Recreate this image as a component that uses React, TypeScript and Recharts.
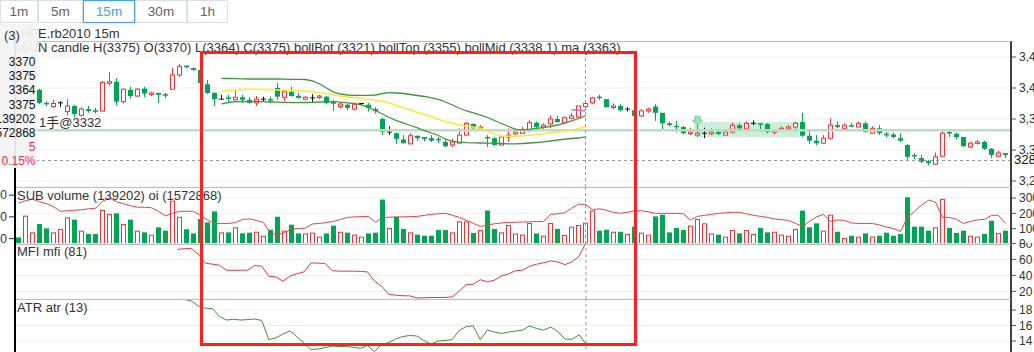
import { ComposedChart, Bar, Line, XAxis, YAxis, CartesianGrid, ReferenceLine, ReferenceArea, ReferenceDot } from 'recharts'

// hovered bar / crosshair
const HOVER = 81
const CROSS_PRICE = 3283
const POSITION_PRICE = 3332

const TABS = ['1m', '5m', '15m', '30m', '1h']
const ACTIVE_TAB = '15m'

const OPEN = [
  3378, 3373, 3379, 3397, 3376, 3370, 3376, 3362, 3371, 3356,
  3366, 3364, 3363, 3408, 3410, 3378, 3397, 3387, 3399, 3391,
  3392, 3390, 3398, 3421, 3436, 3432, 3429, 3406, 3392, 3382,
  3385, 3381, 3385, 3381, 3376, 3382, 3382, 3400, 3385, 3394,
  3387, 3382, 3384, 3385, 3386, 3377, 3370, 3373, 3366, 3375,
  3373, 3366, 3350, 3329, 3327, 3317, 3310, 3323, 3321, 3319,
  3318, 3313, 3308, 3311, 3324, 3342, 3334, 3321, 3319, 3308,
  3321, 3326, 3327, 3331, 3344, 3337, 3342, 3350, 3344, 3351,
  3353, 3370, 3376, 3386, 3382, 3369, 3371, 3366, 3364, 3355,
  3363, 3370, 3360, 3343, 3339, 3337, 3327, 3324, 3327, 3326,
  3329, 3324, 3329, 3340, 3334, 3343, 3343, 3342, 3329, 3332,
  3334, 3337, 3345, 3323, 3315, 3311, 3319, 3340, 3335, 3340,
  3337, 3343, 3327, 3335, 3326, 3325, 3319, 3308, 3292, 3287,
  3282, 3277, 3290, 3329, 3326, 3321, 3305, 3311, 3313, 3302,
  3290, 3295,
]
const HIGH = [
  3380, 3382, 3383, 3399, 3379, 3381, 3379, 3382, 3373, 3369,
  3371, 3368, 3411, 3426, 3416, 3399, 3402, 3400, 3402, 3394,
  3392, 3392, 3432, 3439, 3437, 3433, 3431, 3413, 3393, 3389,
  3389, 3395, 3389, 3385, 3387, 3386, 3386, 3408, 3397, 3402,
  3392, 3387, 3390, 3389, 3387, 3381, 3377, 3374, 3376, 3376,
  3376, 3369, 3352, 3338, 3328, 3324, 3327, 3323, 3321, 3324,
  3321, 3318, 3318, 3335, 3345, 3343, 3340, 3324, 3321, 3322,
  3335, 3335, 3337, 3348, 3346, 3343, 3356, 3355, 3354, 3360,
  3371, 3375, 3386, 3389, 3382, 3375, 3374, 3369, 3366, 3366,
  3368, 3374, 3360, 3346, 3347, 3339, 3336, 3346, 3336, 3335,
  3331, 3333, 3344, 3343, 3346, 3348, 3343, 3343, 3332, 3338,
  3340, 3346, 3360, 3332, 3324, 3324, 3351, 3346, 3343, 3344,
  3346, 3346, 3338, 3340, 3329, 3328, 3327, 3310, 3295, 3292,
  3284, 3296, 3332, 3332, 3328, 3321, 3313, 3316, 3315, 3303,
  3299, 3295,
]
const LOW = [
  3370, 3371, 3375, 3374, 3371, 3368, 3369, 3356, 3353, 3354,
  3360, 3359, 3362, 3404, 3372, 3375, 3383, 3385, 3385, 3387,
  3376, 3384, 3398, 3418, 3432, 3428, 3406, 3390, 3371, 3382,
  3378, 3380, 3376, 3375, 3371, 3378, 3376, 3381, 3379, 3386,
  3383, 3380, 3377, 3382, 3374, 3363, 3367, 3364, 3364, 3372,
  3362, 3359, 3324, 3324, 3310, 3310, 3309, 3315, 3314, 3313,
  3311, 3305, 3305, 3311, 3324, 3334, 3331, 3305, 3307, 3308,
  3313, 3324, 3326, 3329, 3335, 3334, 3335, 3344, 3343, 3351,
  3351, 3364, 3374, 3381, 3369, 3366, 3362, 3362, 3351, 3353,
  3360, 3347, 3333, 3338, 3329, 3325, 3324, 3321, 3319, 3324,
  3324, 3324, 3327, 3333, 3331, 3340, 3330, 3327, 3325, 3330,
  3332, 3333, 3321, 3310, 3308, 3310, 3317, 3335, 3335, 3337,
  3337, 3328, 3327, 3324, 3321, 3319, 3313, 3283, 3285, 3279,
  3275, 3276, 3289, 3321, 3317, 3305, 3303, 3309, 3300, 3287,
  3289, 3287,
]
const CLOSE = [
  3373, 3379, 3381, 3376, 3375, 3375, 3376, 3371, 3358, 3366,
  3363, 3363, 3409, 3410, 3378, 3398, 3387, 3398, 3391, 3392,
  3389, 3388, 3421, 3435, 3434, 3429, 3408, 3392, 3382, 3382,
  3384, 3385, 3381, 3376, 3382, 3382, 3381, 3386, 3394, 3387,
  3384, 3385, 3384, 3387, 3376, 3376, 3374, 3368, 3373, 3375,
  3368, 3363, 3329, 3329, 3318, 3311, 3323, 3319, 3318, 3315,
  3316, 3306, 3313, 3324, 3343, 3335, 3337, 3319, 3308, 3321,
  3324, 3329, 3332, 3344, 3337, 3340, 3350, 3345, 3352, 3355,
  3371, 3375, 3384, 3384, 3369, 3371, 3364, 3366, 3355, 3363,
  3366, 3360, 3343, 3340, 3337, 3327, 3329, 3327, 3327, 3329,
  3326, 3329, 3340, 3335, 3343, 3343, 3342, 3329, 3332, 3335,
  3337, 3343, 3323, 3315, 3311, 3319, 3340, 3337, 3340, 3338,
  3343, 3329, 3335, 3327, 3324, 3321, 3315, 3289, 3290, 3281,
  3279, 3289, 3327, 3327, 3321, 3306, 3311, 3313, 3302, 3292,
  3295, 3292,
]
const VOLUME = [
  43000, 185000, 76000, 131000, 102000, 76000, 98000, 174000, 159000, 87000,
  65000, 65000, 222000, 196000, 200000, 131000, 159000, 87000, 76000, 61000,
  109000, 87000, 283000, 178000, 96000, 69000, 163000, 141000, 213000, 76000,
  76000, 109000, 69000, 74000, 80000, 54000, 93000, 178000, 87000, 126000,
  69000, 69000, 74000, 48000, 69000, 120000, 80000, 74000, 61000, 48000,
  69000, 74000, 290000, 105000, 178000, 98000, 76000, 61000, 54000, 54000,
  91000, 91000, 76000, 148000, 148000, 72000, 91000, 218000, 98000, 76000,
  124000, 69000, 61000, 137000, 69000, 54000, 137000, 98000, 59000, 113000,
  124000, 139202, 218000, 87000, 93000, 80000, 80000, 65000, 113000, 74000,
  61000, 180000, 191000, 76000, 105000, 91000, 120000, 163000, 135000, 69000,
  61000, 48000, 91000, 69000, 91000, 65000, 105000, 76000, 80000, 61000,
  54000, 98000, 218000, 109000, 135000, 87000, 191000, 80000, 39000, 54000,
  48000, 69000, 48000, 54000, 74000, 54000, 65000, 305000, 113000, 113000,
  87000, 109000, 294000, 105000, 72000, 87000, 54000, 48000, 65000, 152000,
  72000, 87000,
]
const OI = [
  1573140, 1573720, 1574070, 1573490, 1573020, 1572330, 1571280, 1571400, 1571510, 1571630,
  1571860, 1571980, 1573600, 1574300, 1573490, 1573020, 1572560, 1572210, 1572210, 1572090,
  1571280, 1570230, 1570810, 1571280, 1571280, 1571280, 1570350, 1569300, 1568490, 1568490,
  1568490, 1568720, 1569420, 1569530, 1569190, 1568720, 1566160, 1565930, 1566400, 1567210,
  1567330, 1567440, 1568370, 1568490, 1568720, 1568950, 1569420, 1569880, 1570000, 1570050,
  1570120, 1568720, 1569880, 1569930, 1569980, 1570000, 1570070, 1570120, 1570350, 1570580,
  1570700, 1570810, 1570350, 1569880, 1569190, 1568490, 1567790, 1568140, 1568420, 1568600,
  1568720, 1568770, 1568810, 1568860, 1568910, 1568950, 1570580, 1570700, 1570930, 1571980,
  1572910, 1572868, 1571630, 1571860, 1571510, 1571050, 1570810, 1571050, 1571400, 1571400,
  1571160, 1570810, 1570810, 1570810, 1570810, 1570700, 1569300, 1570120, 1570350, 1570580,
  1570810, 1570930, 1571050, 1571050, 1570700, 1570350, 1570120, 1569880, 1569530, 1569350,
  1569190, 1568490, 1567790, 1568950, 1570000, 1570580, 1568950, 1569300, 1569190, 1568600,
  1568490, 1568490, 1568490, 1568140, 1567670, 1567330, 1566630, 1569880, 1571280, 1572670,
  1573840, 1573370, 1569880, 1569880, 1569420, 1568490, 1568950, 1569300, 1569420, 1570350,
  1570350, 1568490,
]

const MFI_START = 23
const MFI = [
  72.4, 73.4, 73.6, 66.5, 55.3, 54.0, 52.8, 46.5, 46.3, 46.5,
  46.4, 52.4, 51.5, 39.0, 38.1, 32.8, 39.0, 42.1, 44.4, 55.6,
  55.3, 54.9, 45.9, 45.3, 45.3, 45.3, 45.0, 44.4, 32.8, 26.5,
  16.5, 15.3, 14.6, 14.4, 11.9, 12.1, 12.4, 12.4, 12.5, 13.1,
  20.3, 28.4, 29.0, 34.6, 31.9, 34.0, 39.4, 41.9, 45.9, 46.5,
  51.5, 54.0, 55.9, 58.1, 56.9, 53.4, 56.9, 64.0, 81,
]
const ATR_START = 24
const ATR = [
  19.38, 19.16, 18.52, 18.22, 18.19, 17.16, 16.71, 16.8, 16.71, 16.77,
  16.84, 16.65, 14.19, 14.4, 14.9, 15.3, 14.55, 13.74, 12.9, 12.97,
  13.16, 13.35, 13.29, 13.29, 13.19, 13.06, 13.42, 12.65, 13.55, 13.81,
  14.26, 14.58, 14.71, 14.65, 14.06, 13.61, 14.0, 14.06, 14.19, 15.35,
  15.87, 15.96, 14.17, 15.42, 15.16, 14.97, 15.16, 15.29, 15.42, 15.96,
  15.61, 15.42, 15.81, 15.23, 14.26, 14.22, 14.81, 13.6,
]
const BOLL_START = 29
const BOLL_TOP = [
  3415.6, 3415.3, 3415.0, 3414.8, 3414.5, 3414.5, 3414.5, 3414.5, 3414.5, 3414.2,
  3414.0, 3414.0, 3413.7, 3411.3, 3406.5, 3400.0, 3393.5, 3390.3, 3388.7, 3388.2,
  3388.2, 3388.2, 3388.7, 3391.1, 3392.4, 3391.9, 3391.1, 3389.5, 3387.9, 3386.3,
  3383.9, 3381.8, 3377.4, 3372.6, 3367.3, 3362.9, 3359.7, 3356.4, 3352.4, 3347.6,
  3342.7, 3337.9, 3333.1, 3332.3, 3333.4, 3334.7, 3336.3, 3338.2, 3340.3, 3343.5,
  3346.8, 3350.8, 3355,
]
const BOLL_MID = [
  3395.6, 3396.3, 3396.8, 3397.3, 3397.9, 3397.9, 3397.6, 3397.3, 3396.8, 3396.5,
  3396.1, 3395.6, 3395.2, 3393.9, 3392.4, 3391.1, 3388.7, 3387.1, 3385.8, 3384.4,
  3383.1, 3381.8, 3380.3, 3378.7, 3375.8, 3371.8, 3367.7, 3364.5, 3360.5, 3357.3,
  3354.0, 3349.2, 3346.0, 3343.1, 3340.3, 3338.7, 3337.1, 3335.0, 3330.6, 3325.8,
  3322.6, 3322.1, 3322.3, 3322.6, 3323.7, 3325.0, 3326.3, 3327.9, 3329.0, 3330.6,
  3332.3, 3334.7, 3338.1,
]
const BOLL_BOT = [
  3374.2, 3376.6, 3377.9, 3377.9, 3377.9, 3377.9, 3377.9, 3377.4, 3377.1, 3376.8,
  3376.4, 3376.3, 3376.6, 3376.9, 3377.4, 3377.7, 3377.9, 3377.1, 3376.1, 3375.0,
  3372.6, 3368.5, 3363.7, 3358.1, 3352.4, 3347.3, 3343.5, 3339.5, 3335.5, 3331.4,
  3327.4, 3323.4, 3317.7, 3313.7, 3312.6, 3311.8, 3311.6, 3311.3, 3311.0, 3310.8,
  3310.5, 3310.0, 3310.0, 3310.5, 3311.3, 3312.1, 3313.2, 3314.5, 3316.1, 3317.3,
  3318.5, 3319.3, 3321,
]
const MA_START = 79
const MA = [3365, 3364, 3363]

const PRICE_TICKS = [3250, 3300, 3350, 3400, 3450]
const VOL_TICKS = [0, 100000, 200000, 300000]
const OI_TICKS = [1565000, 1570000, 1575000]
const MFI_TICKS = [20, 40, 60, 80]
const ATR_TICKS = [14, 16, 18]

// shaded zone + marker on the main panel
const ZONE = { from: 97, to: 111, low: 3321, high: 3345 }
const MARKER = { at: 97, price: 3348 }

const RED = '#ff2d2d'
const GREEN = '#00a651'
const FONT = '"Liberation Sans", Arial, "Noto Sans CJK SC", sans-serif'
const CHART_W = 1072

const seg = (arr: number[], start: number, i: number) =>
  i >= start && i < start + arr.length ? arr[i - start] : null

const rows = OPEN.map((open, i) => ({
  i,
  open,
  high: HIGH[i],
  low: LOW[i],
  close: CLOSE[i],
  range: [LOW[i], HIGH[i]],
  volume: VOLUME[i],
  oi: OI[i],
  mfi: seg(MFI, MFI_START, i),
  atr: seg(ATR, ATR_START, i),
  bollTop: seg(BOLL_TOP, BOLL_START, i),
  bollMid: seg(BOLL_MID, BOLL_START, i),
  bollBot: seg(BOLL_BOT, BOLL_START, i),
  ma: seg(MA, MA_START, i),
}))

const fmt = (v: number) => v.toLocaleString('en-US')

const rightAxis = {
  orientation: 'right' as const,
  width: 61,
  tickSize: 5,
  tickMargin: 3,
  interval: 0 as const,
  allowDataOverflow: true,
  axisLine: { stroke: '#000', strokeWidth: 1.5 },
  tickLine: { stroke: '#555' },
  tick: { fontSize: 12, fill: '#333' },
  tickFormatter: fmt,
}

function Candle(props: any) {
  const { x, y, width, height, payload } = props
  const { open, close, high, low } = payload
  const k = high > low ? height / (high - low) : 0
  const py = (v: number) => y + (high - v) * k
  const cx = x + width / 2
  const top = py(Math.max(open, close))
  const bot = py(Math.min(open, close))
  if (close === open) {
    return (
      <g stroke="#111">
        <line x1={cx} x2={cx} y1={y} y2={y + height} />
        <line x1={x} x2={x + width} y1={top} y2={top} />
      </g>
    )
  }
  const bodyH = Math.max(bot - top, 1.5)
  if (close > open) {
    return (
      <g stroke={RED}>
        <line x1={cx} x2={cx} y1={y} y2={top} />
        <line x1={cx} x2={cx} y1={top + bodyH} y2={y + height} />
        <rect x={x + 0.5} y={top} width={width - 1} height={bodyH} fill="#fff" />
      </g>
    )
  }
  return (
    <g>
      <line x1={cx} x2={cx} y1={y} y2={y + height} stroke={GREEN} />
      <rect x={x} y={top} width={width} height={bodyH} fill={GREEN} />
    </g>
  )
}

function VolumeBar(props: any) {
  const { x, y, width, height, payload } = props
  if (payload.close >= payload.open) {
    return <rect x={x + 0.5} y={y + 0.5} width={width - 1} height={Math.max(height - 1, 0)} fill="#fff" stroke={RED} />
  }
  return <rect x={x} y={y} width={width} height={height} fill={GREEN} />
}

function Marker({ cx, cy }: any) {
  return (
    <path
      d={`M${cx - 2.5},${cy - 4} h5 v4 h2.5 l-5,5 l-5,-5 h2.5 z`}
      fill="#a8dfbb"
      stroke="#6cc48f"
      strokeWidth={0.8}
    />
  )
}

function PositionLabel({ viewBox }: any) {
  return (
    <text x={viewBox.x + 24} y={viewBox.y - 3} fontSize={13} fill="#333">
      {`1手@${POSITION_PRICE}`}
    </text>
  )
}

function PriceTag({ viewBox }: any) {
  const x = viewBox.x + viewBox.width
  return (
    <g>
      <rect x={x - 1} y={viewBox.y - 9} width={45} height={16} fill="#fff" />
      <text x={x + 3} y={viewBox.y + 3} fontSize={13} fill="#111">
        {CROSS_PRICE}
      </text>
    </g>
  )
}

const crosshair = <ReferenceLine x={HOVER} stroke="#999" strokeDasharray="3 3" />

function Text({ x, y, children, color = '#333', size = 13 }: any) {
  return (
    <div style={{ position: 'absolute', left: x, top: y, fontSize: size, lineHeight: '15px', color, whiteSpace: 'nowrap' }}>
      {children}
    </div>
  )
}

export default function App() {
  const h = HOVER
  const b = h - BOLL_START
  const change = CLOSE[h] - OPEN[h]
  const panelRows = [
    OPEN[h], HIGH[h], LOW[h], CLOSE[h], VOLUME[h], OI[h], change,
    `${((change / OPEN[h]) * 100).toFixed(2)}%`,
  ]
  const tabBoxes = [
    [0, 38], [38, 45], [83, 52], [135, 52], [187, 41],
  ]
  const seps = [41, 187, 244, 299]

  return (
    <div style={{ position: 'fixed', left: 0, top: 0, width: 1034, height: 352, overflow: 'hidden', background: '#fff', fontFamily: FONT, color: '#333' }}>
      <div style={{ position: 'absolute', left: 0, top: 41 }}>
        <ComposedChart width={CHART_W} height={146} data={rows} margin={{ top: 0, right: 0, bottom: 0, left: 15 }}>
          <XAxis dataKey="i" hide padding={{ left: 0, right: 2 }} />
          <YAxis {...rightAxis} domain={[3240.3, 3475.8]} ticks={PRICE_TICKS} />
          <CartesianGrid vertical={false} stroke="#eeeeee" />
          <ReferenceLine y={POSITION_PRICE} stroke="#b7dfc1" strokeWidth={2.5} label={PositionLabel} />
          <Bar dataKey="range" barSize={5} shape={Candle} isAnimationActive={false} />
          <Line dataKey="bollTop" stroke="#3d983d" strokeWidth={1.3} dot={false} isAnimationActive={false} />
          <Line dataKey="bollBot" stroke="#3d983d" strokeWidth={1.3} dot={false} isAnimationActive={false} />
          <Line dataKey="bollMid" stroke="#f0f03a" strokeWidth={1.6} dot={false} isAnimationActive={false} />
          <Line dataKey="ma" stroke="#c46fdc" strokeWidth={1.6} dot={false} isAnimationActive={false} />
          <ReferenceArea x1={ZONE.from} x2={ZONE.to} y1={ZONE.low} y2={ZONE.high} fill="#3cbf72" fillOpacity={0.26} stroke="none" />
          <ReferenceDot x={MARKER.at} y={MARKER.price} shape={Marker} />
          <ReferenceLine y={CROSS_PRICE} stroke="#999" strokeDasharray="3 3" label={PriceTag} />
          {crosshair}
        </ComposedChart>
      </div>

      <div style={{ position: 'absolute', left: 0, top: 187 }}>
        <ComposedChart width={CHART_W} height={57} data={rows} margin={{ top: 0, right: 0, bottom: 0, left: 0 }}>
          <XAxis dataKey="i" hide padding={{ left: 0, right: 2 }} />
          <YAxis {...rightAxis} domain={[0, 372000]} ticks={VOL_TICKS} />
          <YAxis
            yAxisId="oi"
            orientation="left"
            width={15}
            domain={[1563770, 1576860]}
            ticks={OI_TICKS}
            interval={0}
            allowDataOverflow
            axisLine={false}
            tickLine={{ stroke: '#222' }}
            tick={{ fontSize: 12, fill: '#333' }}
            tickFormatter={fmt}
          />
          <CartesianGrid vertical={false} stroke="#eeeeee" />
          <Bar dataKey="volume" barSize={5} shape={VolumeBar} isAnimationActive={false} />
          <Line yAxisId="oi" dataKey="oi" stroke="#e84040" strokeWidth={1} dot={false} isAnimationActive={false} />
          {crosshair}
        </ComposedChart>
      </div>

      <div style={{ position: 'absolute', left: 0, top: 243 }}>
        <ComposedChart width={CHART_W} height={56} data={rows} margin={{ top: 0, right: 0, bottom: 0, left: 15 }}>
          <XAxis dataKey="i" hide padding={{ left: 0, right: 2 }} />
          <YAxis {...rightAxis} domain={[10.5, 80.5]} ticks={MFI_TICKS} />
          <CartesianGrid vertical={false} stroke="#eeeeee" />
          <Line dataKey="mfi" stroke="#f03535" strokeWidth={1} dot={false} isAnimationActive={false} />
          {crosshair}
        </ComposedChart>
      </div>

      <div style={{ position: 'absolute', left: 0, top: 299 }}>
        <ComposedChart width={CHART_W} height={56} data={rows} margin={{ top: 0, right: 0, bottom: 0, left: 15 }}>
          <XAxis dataKey="i" hide padding={{ left: 0, right: 2 }} />
          <YAxis {...rightAxis} domain={[12.2, 19.42]} ticks={ATR_TICKS} />
          <CartesianGrid vertical={false} stroke="#eeeeee" />
          <Line dataKey="atr" stroke="#339933" strokeWidth={1} dot={false} isAnimationActive={false} />
          {crosshair}
        </ComposedChart>
      </div>

      {seps.map(y => (
        <div key={y} style={{ position: 'absolute', left: 15, top: y, width: 996, height: 1, background: '#bdbdbd' }} />
      ))}
      <div style={{ position: 'absolute', left: 14, top: 41, width: 1.5, height: 320, background: '#000' }} />

      <Text x={12} y={26}>SHFE.rb2010 15m</Text>
      <Text x={15} y={40}>
        {`MAIN candle H(${HIGH[h]}) O(${OPEN[h]}) L(${LOW[h]}) C(${CLOSE[h]}) bollBot (${BOLL_BOT[b]}) bollTop (${BOLL_TOP[b]}) bollMid (${BOLL_MID[b]}) ma (${MA[h - MA_START]})`}
      </Text>
      <Text x={17} y={188}>{`SUB volume (${VOLUME[h]}) oi (${OI[h]})`}</Text>
      <Text x={17} y={244}>{`MFI mfi (${MFI[h - MFI_START]})`}</Text>
      <Text x={17} y={300}>{`ATR atr (${Math.floor(ATR[h - ATR_START])})`}</Text>

      <div style={{ position: 'absolute', left: 0, top: 24, width: 37, height: 144, background: 'rgba(243,243,243,0.94)' }}>
        <Text x={4} y={4}>(3)</Text>
        {panelRows.map((r, k) => (
          <div
            key={k}
            style={{ position: 'absolute', right: 1.5, top: 31 + k * 14.2, fontSize: 12, lineHeight: '15px', color: k >= 6 ? '#f0304a' : '#111', whiteSpace: 'nowrap' }}
          >
            {r}
          </div>
        ))}
      </div>

      <div style={{ position: 'absolute', left: 200, top: 51, width: 437, height: 295, border: '3px solid #ff1f1f', boxSizing: 'border-box' }} />

      {TABS.map((t, k) => {
        const active = t === ACTIVE_TAB
        const [left, width] = tabBoxes[k]
        return (
          <div
            key={t}
            style={{
              position: 'absolute', left, top: 0, width, height: 23, boxSizing: 'border-box',
              border: `1px solid ${active ? '#409eff' : '#dcdfe6'}`, zIndex: active ? 2 : 1,
              background: '#fff', color: active ? '#409eff' : '#606266', fontSize: 13.5,
              textAlign: 'center', lineHeight: '21px',
            }}
          >
            {t}
          </div>
        )
      })}
    </div>
  )
}
